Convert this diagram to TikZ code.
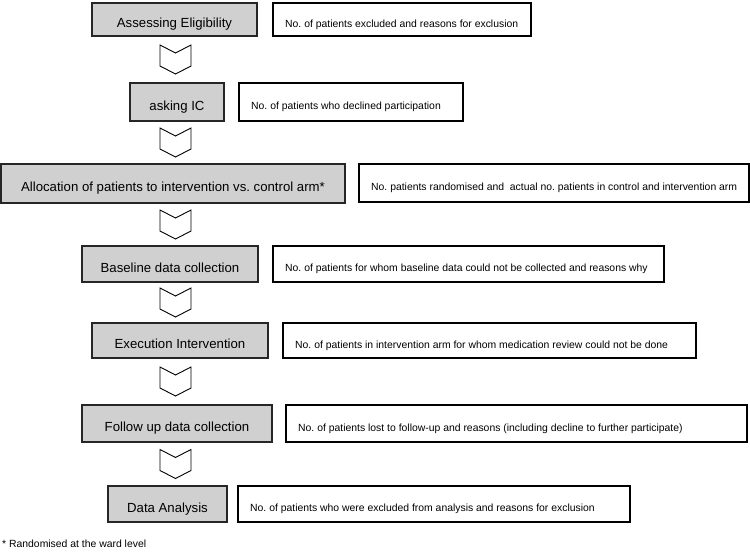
\documentclass[tikz,border=0pt]{standalone}
\usepackage{fontspec}
\setmainfont{Liberation Sans}
\usetikzlibrary{calc}
\definecolor{boxgray}{RGB}{208,208,208}
\begin{document}
\frenchspacing
\begin{tikzpicture}[x=1pt,y=-1pt,
  stepbox/.style={draw=black!85, fill=boxgray, line width=2pt, inner sep=0pt,
    font=\fontsize{13.2}{15}\selectfont, text height=19pt, text depth=3pt},
  infobox/.style={draw=black, line width=2.4pt, anchor=west, inner xsep=12pt, inner ysep=0pt,
    align=flush left, font=\fontsize{10.4}{12.5}\selectfont, text height=18pt, text depth=2.5pt},
  chev/.pic={\draw[line width=0.9pt, fill=white] (-15.5,-14.5) -- (0,-6.5) -- (15.5,-14.5)
    -- (15.5,6.5) -- (0,14.5) -- (-15.5,6.5) -- cycle;}
]
\useasboundingbox (0,0) rectangle (750,554);

% steps
\node[stepbox, minimum width=165pt, minimum height=33pt] (B1) at (174.5,19.5) {Assessing Eligibility};
\node[stepbox, minimum width=94pt, minimum height=38pt] (B2) at (177,102) {asking IC};
\node[stepbox, minimum width=344pt, minimum height=39pt] (B3) at (173,183.5) {Allocation of patients to intervention vs. control arm*};
\node[stepbox, minimum width=176pt, minimum height=36pt] (B4) at (170,264) {Baseline data collection};
\node[stepbox, minimum width=176pt, minimum height=35pt] (B5) at (180,340.5) {Execution Intervention};
\node[stepbox, minimum width=190pt, minimum height=37pt] (B6) at (177,423.5) {Follow up data collection};
\node[stepbox, minimum width=119pt, minimum height=36pt] (B7) at (167.5,504) {Data Analysis};

% info boxes
\node[infobox, text width=234pt, minimum height=33pt] (R1) at (272,19.5) {\mbox{No. of patients excluded and reasons for exclusion}};
\node[infobox, text width=200pt, minimum height=38pt] (R2) at (238,102) {\mbox{No. of patients who declined participation}};
\node[infobox, text width=366pt, minimum height=38pt] (R3) at (358,183) {\mbox{No. patients randomised and\ \ actual no. patients in control and intervention arm}};
\node[infobox, text width=367pt, minimum height=36pt] (R4) at (272,264) {\mbox{No. of patients for whom baseline data could not be collected and reasons why}};
\node[infobox, text width=389pt, minimum height=35pt] (R5) at (282,340.5) {\mbox{No. of patients in intervention arm for whom medication review could not be done}};
\node[infobox, text width=437pt, minimum height=37pt] (R6) at (285,423.5) {\mbox{No. of patients lost to follow-up and reasons (including decline to further participate)}};
\node[infobox, text width=368pt, minimum height=36pt] (R7) at (237,504) {\mbox{No. of patients who were excluded from analysis and reasons for exclusion}};

% chevrons between steps
\coordinate (ax) at (175.5,0);
\foreach \a/\b [count=\i] in {B1/B2,B2/B3,B3/B4,B4/B5,B5/B6,B6/B7}{
  \path (\a.south) -- (\b.north) coordinate[pos=0.5] (m\i);
  \pic at (ax |- m\i) {chev};
}

% footnote
\node[anchor=base west, inner sep=0pt, font=\fontsize{10.4}{12.5}\selectfont] (fn) at (2,547) {* Randomised at the ward level};
\end{tikzpicture}
\end{document}
